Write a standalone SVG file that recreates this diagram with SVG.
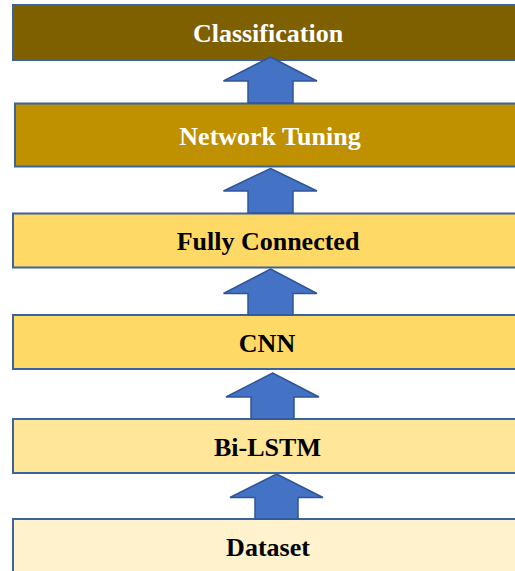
<svg xmlns="http://www.w3.org/2000/svg" width="515" height="571" viewBox="0 0 515 571">
<style>
.box{stroke:#3A63A0;stroke-width:2}
.lbl{font-family:"Liberation Serif","Times New Roman",serif;font-weight:bold;font-size:26px;text-anchor:middle}
.arr{fill:#4472C4;stroke:#2F5597;stroke-width:1.5;stroke-linejoin:miter}
</style>
<rect width="515" height="571" fill="#ffffff"/>
<g id="classification">
<rect class="box" x="13" y="5" width="512" height="55" fill="#7F6000"/>
<text class="lbl" x="268" y="42" fill="#ffffff">Classification</text>
</g>
<g id="network-tuning">
<rect class="box" x="15" y="103.5" width="510" height="63" fill="#BF9000"/>
<text class="lbl" x="270" y="145" fill="#ffffff">Network Tuning</text>
</g>
<g id="fully-connected">
<rect class="box" x="13" y="213.5" width="512" height="54" fill="#FFD966"/>
<text class="lbl" x="268" y="250" fill="#000000">Fully Connected</text>
</g>
<g id="cnn">
<rect class="box" x="13" y="315" width="512" height="54" fill="#FFD966"/>
<text class="lbl" x="267" y="351.5" fill="#000000">CNN</text>
</g>
<g id="bi-lstm">
<rect class="box" x="13" y="419" width="512" height="54" fill="#FFE699"/>
<text class="lbl" x="267.5" y="455.5" fill="#000000">Bi-LSTM</text>
</g>
<g id="dataset">
<rect class="box" x="13" y="519" width="512" height="60" fill="#FFF2CC"/>
<text class="lbl" x="268" y="555.5" fill="#000000">Dataset</text>
</g>
<g id="connectors">
<polygon class="arr" points="270.5,57 317,81 293,81 293,103 248,103 248,81 223.5,81"/>
<polygon class="arr" points="270.5,168.5 317,191 293,191 293,213 248,213 248,191 223.5,191"/>
<polygon class="arr" points="270.5,269 317,293.5 293,293.5 293,315 248,315 248,293.5 223.5,293.5"/>
<polygon class="arr" points="272.5,373 319,397 294,397 294,419 251,419 251,397 226,397"/>
<polygon class="arr" points="276.5,474 323,497.5 298,497.5 298,519 255,519 255,497.5 230,497.5"/>
</g>
</svg>
